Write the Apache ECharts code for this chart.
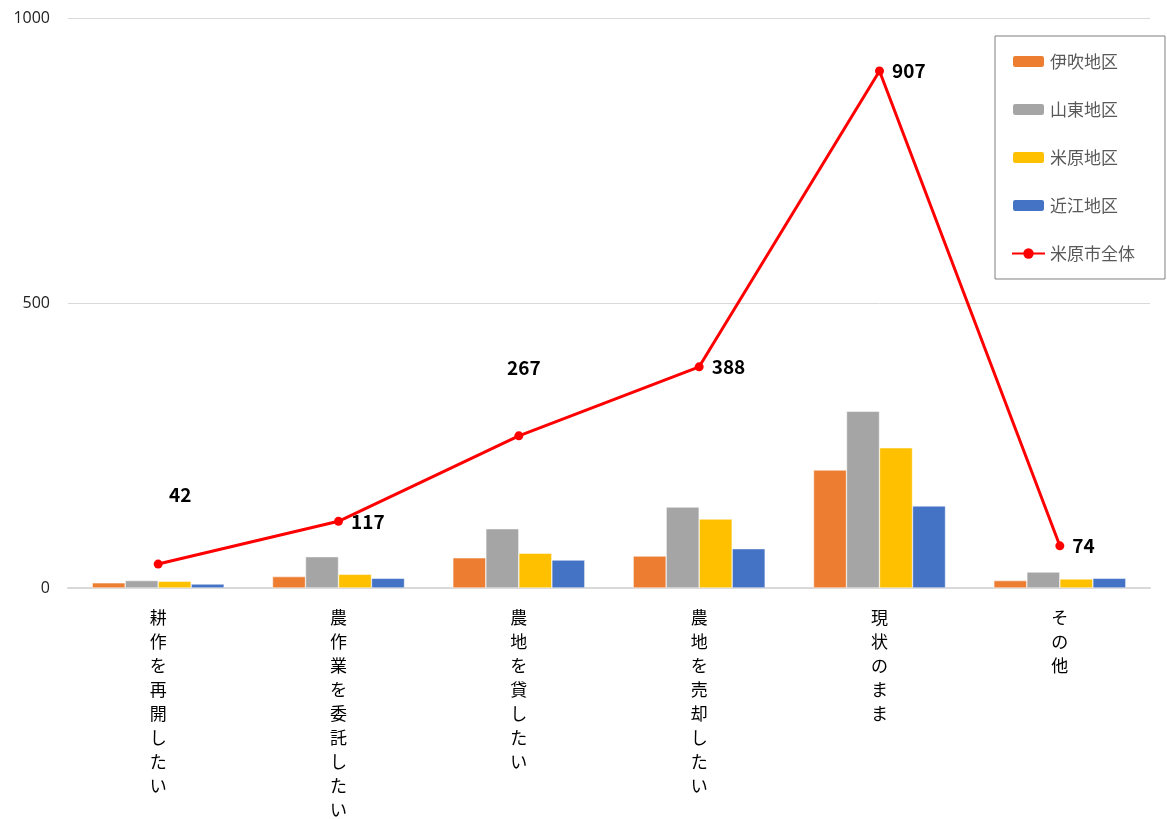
<!DOCTYPE html>
<html><head><meta charset="utf-8">
<script src="https://cdn.jsdelivr.net/npm/echarts@6/dist/echarts.min.js"></script>
<style>html,body{margin:0;padding:0;background:#fff}#c{width:1167px;height:819px}</style>
</head><body><div id="c"></div>
<script>
const categories = ['耕作を再開したい','農作業を委託したい','農地を貸したい','農地を売却したい','現状のまま','その他'];
const ibuki   = [9, 20, 53, 56, 207, 13];
const santo   = [13, 55, 104, 142, 310, 28];
const maibara = [12, 24, 61, 121, 246, 16];
const omi     = [7, 17, 49, 69, 144, 17];
const total   = [42, 117, 267, 388, 907, 74];
const yTicks  = [0, 500, 1000];

const font = '"Noto Sans CJK JP", "Noto Sans", sans-serif';
const chart = echarts.init(document.getElementById('c'));
const labelOverride = {0: {position: 'top', offset: [22, -47]}, 2: {position: 'top', offset: [5, -46]}};
const barSeries = (name, data, color) => ({
  name, type: 'bar', data, barWidth: 33, barGap: '0%',
  itemStyle: {color, borderColor: '#fff', borderWidth: 0.5}
});
chart.setOption({
  animation: false,
  textStyle: {fontFamily: font},
  grid: {left: 68, right: 17, top: 18, bottom: 231, containLabel: false, outerBoundsMode: 'none'},
  legend: {
    orient: 'vertical', left: 995, top: 36,
    padding: [17, 30, 17, 16], itemGap: 31, itemWidth: 33, itemHeight: 13,
    borderColor: '#7f7f7f', borderWidth: 1,
    textStyle: {fontSize: 17, color: '#595959', fontFamily: font},
    data: ['伊吹地区','山東地区','米原地区','近江地区','米原市全体']
  },
  xAxis: {
    type: 'category', data: categories,
    axisLine: {lineStyle: {color: '#d9d9d9', width: 2}},
    axisTick: {show: false},
    axisLabel: {
      interval: 0, color: '#000', fontSize: 17, lineHeight: 24, margin: 18,
      verticalAlign: 'top',
      formatter: v => v.split('').join('\n')
    }
  },
  yAxis: {
    type: 'value', min: yTicks[0], max: yTicks[yTicks.length - 1], interval: yTicks[1] - yTicks[0],
    axisLine: {show: false}, axisTick: {show: false},
    splitLine: {lineStyle: {color: '#d9d9d9'}},
    axisLabel: {color: '#222', fontSize: 16, margin: 18, fontFamily: '"Open Sans", sans-serif', formatter: v => String(v)}
  },
  series: [
    barSeries('伊吹地区', ibuki, '#ed7d31'),
    barSeries('山東地区', santo, '#a5a5a5'),
    barSeries('米原地区', maibara, '#ffc000'),
    barSeries('近江地区', omi, '#4472c4'),
    {
      name: '米原市全体', type: 'line',
      data: total.map((v, i) => labelOverride[i] ? {value: v, label: labelOverride[i]} : v),
      symbol: 'circle', symbolSize: 9,
      lineStyle: {color: '#ff0000', width: 3},
      itemStyle: {color: '#ff0000'},
      label: {show: true, position: 'right', distance: 8, fontSize: 19, fontWeight: 'bold', color: '#000', fontFamily: font},
      z: 5
    }
  ]
});
</script></body></html>
